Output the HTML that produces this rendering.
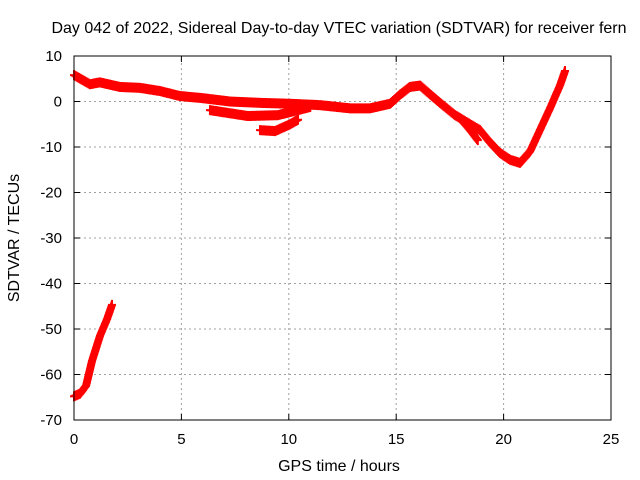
<!DOCTYPE html>
<html><head><meta charset="utf-8"><style>
body{margin:0;background:#fff}
svg{display:block;font-family:"Liberation Sans",sans-serif}
</style></head><body>
<svg id="chart" width="640" height="480">
<text x="339" y="33" text-anchor="middle" font-size="16">Day 042 of 2022, Sidereal Day-to-day VTEC variation (SDTVAR) for receiver fern</text>
<text x="339" y="471" text-anchor="middle" font-size="16">GPS time / hours</text>
<text transform="translate(19,238) rotate(-90)" text-anchor="middle" font-size="16">SDTVAR / TECUs</text>
<g id="grid"></g><g id="marks"></g><g id="axes"></g>
</svg>
<script>
const xTicks=[0,5,10,15,20,25];
const yTicks=[10,0,-10,-20,-30,-40,-50,-60,-70];
const mainH=[0,0.74,1.21,2.14,3.07,4.0,4.93,5.87,7.26,8.66,10.06,11.45,12.85,13.78,14.71,15.18,15.64,16.11,16.57,17.04,17.74,18.44,18.9,19.37,19.83,20.3,20.76,21.23,21.69,22.16,22.63,22.86];
const mainV=[5.8,3.8,4.2,3.2,3.0,2.3,1.2,0.8,0,-0.3,-0.5,-0.8,-1.5,-1.5,-0.5,1.5,3.2,3.5,1.6,-0.3,-3,-5,-6.3,-9,-11.3,-12.8,-13.5,-11,-6.3,-1.5,3.6,6.7];
const lowerH=[6.33,8.1,9.5,10.5,11.0];
const lowerV=[-1.9,-3.2,-3.0,-1.8,-1.2];
const dipH=[8.66,9.36,10.06,10.43];
const dipV=[-6.3,-6.5,-5,-4];
const splitH=[18.0,18.4,18.8];
const splitV=[-3.8,-6,-8.5];
const tailH=[0,0.28,0.56,0.84,1.21,1.54,1.77];
const tailV=[-64.8,-64.2,-62.5,-57,-51.5,-47.8,-44.7];

const X0=74,X1=611,Y0=420,Y1=56;
const xs=h=>X0+(h-0)/(25-0)*(X1-X0);
const ys=v=>Y0-(v-(-70))/(10-(-70))*(Y0-Y1);
const NS="http://www.w3.org/2000/svg";
function mk(t,a,p){const e=document.createElementNS(NS,t);for(const k in a)e.setAttribute(k,a[k]);p.appendChild(e);return e;}
const grid=document.getElementById('grid'),axes=document.getElementById('axes'),marks=document.getElementById('marks');
xTicks.forEach(t=>{const x=xs(t);
 if(t>0&&t<25){const g=mk('line',{x1:x,x2:x,y1:Y0,y2:Y1,stroke:'#a0a0a0','stroke-dasharray':'2,3'},grid);
 
 }
 mk('line',{x1:x,x2:x,y1:Y0,y2:Y0-6,stroke:'#000'},axes);
 mk('line',{x1:x,x2:x,y1:Y1,y2:Y1+6,stroke:'#000'},axes);
 const l=mk('text',{x:x,y:Y0+24,'text-anchor':'middle','font-size':15},axes);l.textContent=t;
 
 });
yTicks.forEach(t=>{const y=ys(t);
 if(t<10&&t>-70){const g=mk('line',{x1:X0,x2:X1,y1:y,y2:y,stroke:'#a0a0a0','stroke-dasharray':'2,3'},grid);
 
 }
 mk('line',{x1:X0,x2:X0+6,y1:y,y2:y,stroke:'#000'},axes);
 mk('line',{x1:X1,x2:X1-6,y1:y,y2:y,stroke:'#000'},axes);
 const l=mk('text',{x:X0-12,y:y+5,'text-anchor':'end','font-size':15},axes);l.textContent=t;
 
 });
const b=mk('rect',{x:X0,y:Y1,width:X1-X0,height:Y0-Y1,fill:'none',stroke:'#000'},axes);


function series(H,V,name){
 const g=mk('g',{stroke:'#f00','stroke-width':2},marks);
 
 
 let d='';
 for(let i=0;i<H.length-1;i++){
  const ax=xs(H[i]),ay=ys(V[i]),bx=xs(H[i+1]),by=ys(V[i+1]);
  const n=Math.max(1,Math.ceil(Math.hypot(bx-ax,by-ay)/1.5));
  for(let k=0;k<=n;k++){const x=ax+(bx-ax)*k/n,y=ay+(by-ay)*k/n;
   d+=`M${x-4},${y}h8M${x},${y-5}v10`;}
 }
 mk('path',{d:d,fill:'none'},g);
}
series(mainH,mainV,'sdtvar-main-series');
series(lowerH,lowerV,'sdtvar-lower-branch');
series(dipH,dipV,'sdtvar-dip-branch');
series(splitH,splitV,'sdtvar-split-branch');
series(tailH,tailV,'sdtvar-early-tail');
</script>
</body></html>
